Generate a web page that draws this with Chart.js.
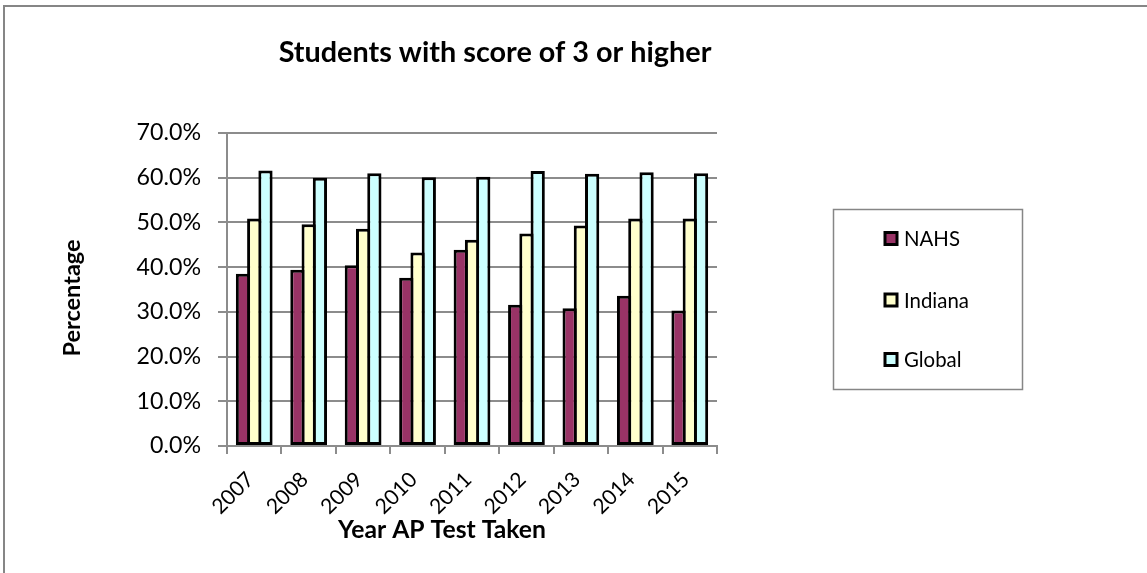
<!DOCTYPE html>
<html>
<head>
<meta charset="utf-8">
<script src="https://cdn.jsdelivr.net/npm/chart.js@4/dist/chart.umd.min.js"></script>
<style>
  html, body { margin: 0; padding: 0; background: #ffffff; }
  #wrap { width: 1147px; height: 573px; }
</style>
</head>
<body>
<div id="wrap"><canvas id="c" width="1147" height="573"></canvas></div>
<script>
// ---- data ----
const chartTitle = "Students with score of 3 or higher";
const xAxisTitle = "Year AP Test Taken";
const yAxisTitle = "Percentage";
const years = ["2007", "2008", "2009", "2010", "2011", "2012", "2013", "2014", "2015"];
const seriesNames = ["NAHS", "Indiana", "Global"];
const nahs    = [38.5, 39.4, 40.4, 37.6, 43.9, 31.6, 30.8, 33.6, 30.3];
const indiana = [50.9, 49.6, 48.6, 43.3, 46.1, 47.5, 49.3, 50.9, 50.9];
const global  = [61.6, 60.0, 61.0, 60.1, 60.2, 61.5, 60.9, 61.2, 61.0];
const yMin = 0, yMax = 70, yStep = 10;

// ---- styles ----
const FONT = "Lato, 'Open Sans', sans-serif";
const fillColors = ["#993366", "#FFFFCC", "#CCFFFF"];
const gridGray = "#8c8c8c";

// size fonts so text widths match the reference
const mctx = document.createElement("canvas").getContext("2d");
function fitSize(text, weight, target) {
  mctx.font = weight + " 100px " + FONT;
  return Math.round(100 * target / mctx.measureText(text).width * 10) / 10;
}
const titleSize  = fitSize(chartTitle, "bold", 433);
const yTickSize  = fitSize("0.0%", "normal", 51);
const xTickSize  = fitSize("2007", "normal", 49);
const xTitleSize = fitSize(xAxisTitle, "bold", 208);
const yTitleSize = fitSize(yAxisTitle, "bold", 117);
const legendSize = fitSize("Indiana", "normal", 65);

const bgPlugin = {
  id: "bg",
  beforeDraw(chart) {
    const ctx = chart.ctx;
    ctx.save();
    ctx.fillStyle = "#ffffff";
    ctx.fillRect(0, 0, chart.width, chart.height);
    ctx.restore();
  }
};

const framePlugin = {
  id: "frame",
  afterDraw(chart) {
    const ctx = chart.ctx;
    ctx.save();
    ctx.strokeStyle = "#868686";
    ctx.lineWidth = 2;
    ctx.beginPath();
    ctx.moveTo(4, chart.height);
    ctx.lineTo(4, 6);
    ctx.lineTo(chart.width, 6);
    ctx.stroke();
    ctx.restore();
  }
};

const textPlugin = {
  id: "texts",
  afterDraw(chart) {
    const ctx = chart.ctx;
    ctx.save();
    ctx.fillStyle = "#000000";
    ctx.textBaseline = "alphabetic";
    ctx.textAlign = "center";
    // chart title
    ctx.font = "bold " + titleSize + "px " + FONT;
    ctx.fillText(chartTitle, 495, 62);
    // x axis title
    ctx.font = "bold " + xTitleSize + "px " + FONT;
    ctx.fillText(xAxisTitle, 442, 538);
    // y axis title
    ctx.font = "bold " + yTitleSize + "px " + FONT;
    ctx.translate(80, 298);
    ctx.rotate(-Math.PI / 2);
    ctx.fillText(yAxisTitle, 0, 0);
    ctx.restore();
  }
};

const legendPlugin = {
  id: "customLegend",
  afterDraw(chart) {
    const ctx = chart.ctx;
    ctx.save();
    ctx.strokeStyle = "#868686";
    ctx.lineWidth = 1.5;
    ctx.strokeRect(833.5, 209.5, 189, 180);
    const rowsY = [238.5, 300, 359.5];
    chart.data.datasets.forEach((ds, i) => {
      const y = rowsY[i];
      ctx.fillStyle = ds.backgroundColor;
      ctx.fillRect(885, y - 6, 12, 12);
      ctx.strokeStyle = "#000000";
      ctx.lineWidth = 3;
      ctx.strokeRect(885, y - 6, 12, 12);
      ctx.fillStyle = "#000000";
      ctx.font = legendSize + "px " + FONT;
      ctx.textAlign = "left";
      ctx.textBaseline = "alphabetic";
      ctx.fillText(ds.label, 904, y + 7.5);
    });
    ctx.restore();
  }
};

const datasets = [nahs, indiana, global].map((vals, i) => ({
  label: seriesNames[i],
  data: vals,
  backgroundColor: fillColors[i],
  borderColor: "#000000",
  borderWidth: 3,
  borderSkipped: false,
  categoryPercentage: 0.62,
  barPercentage: 1.267
}));

new Chart(document.getElementById("c"), {
  type: "bar",
  data: { labels: years, datasets: datasets },
  plugins: [bgPlugin, framePlugin, textPlugin, legendPlugin],
  options: {
    responsive: false,
    animation: false,
    devicePixelRatio: 1,
    layout: { padding: { left: 0, right: 430, top: 133, bottom: 0 } },
    plugins: {
      legend: { display: false },
      title: { display: false },
      tooltip: { enabled: false }
    },
    scales: {
      x: {
        offset: true,
        grid: {
          offset: true,
          drawOnChartArea: false,
          drawTicks: true,
          tickLength: 8,
          color: gridGray,
          lineWidth: 2
        },
        border: { display: true, color: gridGray, width: 2 },
        ticks: {
          minRotation: 45,
          maxRotation: 45,
          padding: 13,
          labelOffset: -4,
          color: "#000000",
          font: { family: FONT, size: xTickSize }
        },
        title: { display: false },
        afterFit(scale) { scale.height = 127; }
      },
      y: {
        min: yMin,
        max: yMax,
        ticks: {
          stepSize: yStep,
          padding: 17,
          color: "#000000",
          font: { family: FONT, size: yTickSize },
          callback: (v) => Number(v).toFixed(1) + "%"
        },
        grid: {
          color: gridGray,
          lineWidth: 2,
          tickLength: 9
        },
        border: { display: true, color: gridGray, width: 2 },
        title: { display: false },
        afterFit(scale) { scale.width = 227; }
      }
    }
  }
});
</script>
</body>
</html>
